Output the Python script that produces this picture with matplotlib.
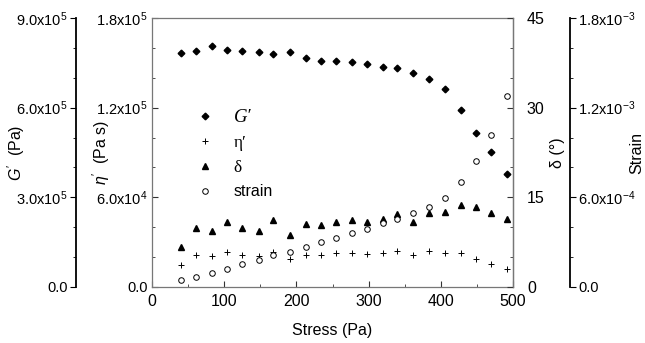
import matplotlib
matplotlib.use("Agg")
import matplotlib.pyplot as plt
from matplotlib.ticker import MultipleLocator
from matplotlib.lines import Line2D

plt.rcParams['font.family'] = ['Liberation Sans', 'DejaVu Sans']
plt.rcParams['mathtext.fontset'] = 'custom'
plt.rcParams['mathtext.rm'] = 'Liberation Sans'
plt.rcParams['mathtext.it'] = 'Liberation Sans:italic'
plt.rcParams['mathtext.bf'] = 'Liberation Sans:bold'

stress = [40, 61, 83, 104, 125, 148, 168, 191, 213, 234, 255,
          277, 298, 320, 340, 362, 384, 406, 428, 449, 470, 492]
g_prime = [782e3, 790e3, 806e3, 793e3, 789e3, 785e3, 779e3, 786e3, 766e3, 757e3, 756e3,
           753e3, 746e3, 736e3, 732e3, 717e3, 697e3, 661e3, 593e3, 516e3, 451e3, 378e3]
eta_prime = [14.5e3, 21.2e3, 20.7e3, 23.4e3, 21.2e3, 20.7e3, 23.6e3, 18.5e3, 21.6e3, 21.2e3, 22.5e3,
             23.0e3, 22.0e3, 22.9e3, 24.3e3, 21.2e3, 23.9e3, 23.0e3, 22.5e3, 18.9e3, 15.2e3, 11.8e3]
delta = [6.7, 9.9, 9.4, 10.8, 9.8, 9.4, 11.2, 8.7, 10.5, 10.4, 10.8,
         11.2, 10.8, 11.4, 12.2, 10.9, 12.3, 12.5, 13.7, 13.3, 12.4, 11.4]
strain = [4.7e-5, 6.9e-5, 9.6e-5, 1.22e-4, 1.54e-4, 1.81e-4, 2.12e-4, 2.36e-4, 2.70e-4, 3.01e-4, 3.30e-4,
          3.61e-4, 3.90e-4, 4.26e-4, 4.57e-4, 4.93e-4, 5.37e-4, 5.97e-4, 7.0e-4, 8.45e-4, 1.02e-3, 1.276e-3]

g_ticks = [0, 3e5, 6e5, 9e5]
g_ticklabels = ['0.0', '3.0x10$^5$', '6.0x10$^5$', '9.0x10$^5$']
eta_ticks = [0, 6e4, 1.2e5, 1.8e5]
eta_ticklabels = ['0.0', '6.0x10$^4$', '1.2x10$^5$', '1.8x10$^5$']
delta_ticks = [0, 15, 30, 45]
strain_ticks = [0, 6e-4, 1.2e-3, 1.8e-3]
strain_ticklabels = ['0.0', '6.0x10$^{-4}$', '1.2x10$^{-3}$', '1.8x10$^{-3}$']
x_ticks = [0, 100, 200, 300, 400, 500]

FS = 11.5   # axis labels
TS = 10.5   # tick labels
fig = plt.figure(figsize=(6.45, 3.43), dpi=100)
ax = fig.add_axes([152/645, 1-287/343, 361/645, 269/343])
box_color = '#777777'
for s in ax.spines.values():
    s.set_color(box_color)
    s.set_linewidth(0.9)

# eta' on the main left spine
ax.set_xlim(0, 500)
ax.set_ylim(0, 1.8e5)
ax.set_xticks(x_ticks)
ax.xaxis.set_minor_locator(MultipleLocator(50))
ax.set_yticks(eta_ticks)
ax.set_yticklabels(eta_ticklabels)
ax.yaxis.set_minor_locator(MultipleLocator(2e4))
ax.tick_params(which='both', direction='in', top=False, right=False, labelsize=TS, color='#333333')
ax.tick_params(axis='y', pad=3)
ax.tick_params(axis='x', labelsize=FS, pad=5)
ax.tick_params(which='major', length=4)
ax.tick_params(which='minor', length=2.5)
ax.set_xlabel('Stress (Pa)', fontsize=FS)
ax.set_ylabel("$\\eta'$  (Pa s)", fontsize=FS)
ax.yaxis.set_label_coords(-0.11, 0.5)
ax.xaxis.set_label_coords(0.5, -0.135)

# G' outer left axis
axg = ax.twinx()
axg.set_ylim(0, 9e5)
for k in ['top', 'bottom', 'right']:
    axg.spines[k].set_visible(False)
axg.spines['left'].set_visible(True)
axg.spines['left'].set_position(('axes', (76-152)/361))
axg.spines['left'].set_linewidth(1.3)
axg.yaxis.set_ticks_position('left')
axg.yaxis.set_label_position('left')
axg.set_yticks(g_ticks)
axg.set_yticklabels(g_ticklabels)
axg.yaxis.set_minor_locator(MultipleLocator(1e5))
axg.tick_params(which='both', direction='out', labelsize=TS, pad=2)
axg.tick_params(which='major', length=4)
axg.tick_params(which='minor', length=2.5)
axg.set_ylabel("$G'$  (Pa)", fontsize=FS)
axg.yaxis.set_label_coords(-0.345, 0.5)

# delta on main right spine
axd = ax.twinx()
axd.set_ylim(0, 45)
for k in ['top', 'bottom', 'left']:
    axd.spines[k].set_visible(False)
axd.spines['right'].set_color(box_color)
axd.spines['right'].set_linewidth(0.9)
axd.set_yticks(delta_ticks)
axd.yaxis.set_minor_locator(MultipleLocator(5))
axd.tick_params(which='both', direction='in', labelsize=FS, color='#333333', pad=10)
axd.tick_params(which='major', length=4)
axd.tick_params(which='minor', length=2.5)
axd.set_ylabel('δ (°)', fontsize=FS)
axd.yaxis.set_label_coords(1.102, 0.5)

# strain outer right axis
axs = ax.twinx()
axs.set_ylim(0, 1.8e-3)
for k in ['top', 'bottom', 'left']:
    axs.spines[k].set_visible(False)
axs.spines['right'].set_position(('axes', (570-152)/361))
axs.spines['right'].set_linewidth(1.3)
axs.set_yticks(strain_ticks)
axs.set_yticklabels(strain_ticklabels)
axs.yaxis.set_minor_locator(MultipleLocator(2e-4))
axs.tick_params(which='both', direction='out', labelsize=TS, pad=2)
axs.tick_params(which='major', length=4)
axs.tick_params(which='minor', length=2.5)
axs.set_ylabel('Strain', fontsize=FS)
axs.yaxis.set_label_coords(1.322, 0.5)

# data
axg.plot(stress, g_prime, ls='none', marker='D', ms=3.4, color='black', zorder=5)
ax.plot(stress, eta_prime, ls='none', marker='+', ms=5, mew=0.7, color='black')
axd.plot(stress, delta, ls='none', marker='^', ms=5, color='black')
axs.plot(stress, strain, ls='none', marker='o', ms=4, mfc='white', mec='black', mew=0.7)

handles = [
    Line2D([], [], ls='none', marker='D', ms=3.4, color='black'),
    Line2D([], [], ls='none', marker='+', ms=5, mew=0.7, color='black'),
    Line2D([], [], ls='none', marker='^', ms=5, color='black'),
    Line2D([], [], ls='none', marker='o', ms=4, mfc='white', mec='black', mew=0.7),
]
labels = ['G′', 'η′', 'δ', 'strain']
leg = ax.legend(handles, labels, frameon=False, loc='upper left',
                bbox_to_anchor=(0.085, 0.715), fontsize=FS, handlelength=1.0,
                handletextpad=1.3, labelspacing=0.55)
texts = leg.get_texts()
texts[0].set_fontfamily(['Liberation Serif', 'DejaVu Serif'])
texts[0].set_fontstyle('italic')
texts[0].set_fontsize(FS + 2)
texts[1].set_fontfamily(['Liberation Serif', 'DejaVu Serif'])
texts[1].set_fontsize(FS + 1)
texts[2].set_fontfamily(['Liberation Serif', 'DejaVu Serif'])
texts[2].set_fontsize(FS + 1)

fig.savefig('out.png', dpi=100)
